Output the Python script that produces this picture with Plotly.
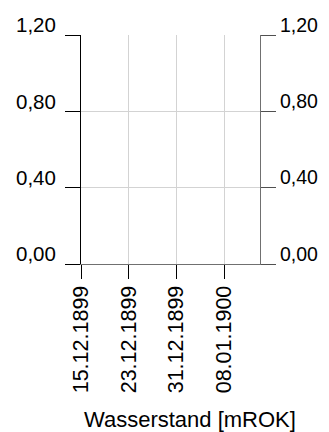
import plotly.graph_objects as go

# --- data ---
series_name = "Wasserstand"
series_dates = []          # no measured values visible in the chart
series_values = []
x_range = ["1899-12-15", "1900-01-14"]
x_tick_dates = ["1899-12-15", "1899-12-23", "1899-12-31", "1900-01-08"]
x_tick_labels = ["15.12.1899", "23.12.1899", "31.12.1899", "08.01.1900"]
y_range = [0.0, 1.2]
y_tick_values = [0.0, 0.4, 0.8, 1.2]
axis_title = "Wasserstand [mROK]"

FONT = "Liberation Sans, Arial, sans-serif"
FS_X = 21.5
FS_Y = 20.5

fig = go.Figure()
fig.add_trace(go.Scatter(x=series_dates, y=series_values, name=series_name,
                         mode="lines", line=dict(color="#1f3f9f"), yaxis="y"))
fig.add_trace(go.Scatter(x=series_dates, y=series_values, name=series_name,
                         mode="lines", line=dict(color="#1f3f9f"), yaxis="y2",
                         showlegend=False))

# page body has an 8px margin, so the figure is drawn smaller and offset
fig.update_layout(
    width=321, height=424,
    margin=dict(l=73, r=69, t=27, b=168),
    paper_bgcolor="white", plot_bgcolor="white",
    separators=",.",
    showlegend=False,
    font=dict(family=FONT, size=FS_Y, color="black"),
    xaxis=dict(
        type="date", range=x_range,
        tickmode="array", tickvals=x_tick_dates, ticktext=x_tick_labels,
        tickangle=-90,
        ticks="outside", ticklen=14, tickcolor="black", tickwidth=1,
        showgrid=True, gridcolor="#d3d3d3", gridwidth=1,
        showline=True, linecolor="#707070", linewidth=1.2,
        zeroline=False, automargin=False,
        ticklabelstandoff=-2,
        tickfont=dict(size=FS_X),
    ),
    yaxis=dict(
        range=y_range, tickmode="array", tickvals=y_tick_values,
        tickformat=".2f",
        ticks="outside", ticklen=15, tickcolor="black", tickwidth=1,
        showgrid=True, gridcolor="#d3d3d3", gridwidth=1,
        showline=True, linecolor="black", linewidth=1,
        zeroline=False, automargin=False,
        ticklabelshift=-10, ticklabelstandoff=5,
        tickfont=dict(size=FS_Y),
    ),
    yaxis2=dict(
        range=y_range, tickmode="array", tickvals=y_tick_values,
        tickformat=".2f",
        overlaying="y", side="right",
        ticks="outside", ticklen=15, tickcolor="#505050", tickwidth=1,
        showgrid=False,
        showline=True, linecolor="#707070", linewidth=1.2,
        zeroline=False, automargin=False,
        ticklabelshift=-10, ticklabelstandoff=0,
        tickfont=dict(size=19.5),
    ),
    annotations=[dict(
        text=axis_title, xref="paper", yref="paper",
        x=0.609, y=-0.68, xanchor="center", yanchor="middle",
        showarrow=False, font=dict(size=22, family=FONT, color="black"),
    )],
)

fig.write_html("out.html")
